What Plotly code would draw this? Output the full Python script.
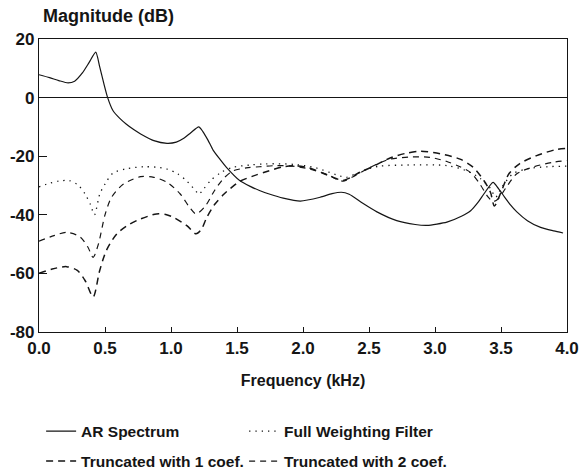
import plotly.graph_objects as go

# ---- data ----
ar_f = [0.00, 0.08, 0.15, 0.22, 0.27, 0.33, 0.38, 0.43, 0.46, 0.49, 0.52, 0.56, 0.61, 0.66,
        0.72, 0.77, 0.87, 0.97, 1.04, 1.10, 1.15, 1.21, 1.24, 1.28, 1.32, 1.37, 1.42, 1.52,
        1.60, 1.67, 1.75, 1.85, 1.98, 2.13, 2.22, 2.29, 2.35, 2.45, 2.56, 2.71, 2.85, 2.94,
        3.09, 3.20, 3.27, 3.33, 3.37, 3.44, 3.48, 3.52, 3.57, 3.62, 3.70, 3.80, 3.90, 3.97]
ar_db = [7.8, 6.8, 5.8, 5.0, 5.6, 8.5, 12.0, 15.5, 10.5, 5.0, 0.0, -4.4, -7.0, -9.0,
         -11.0, -12.4, -14.7, -15.6, -15.2, -13.8, -12.0, -10.0, -11.5, -14.5, -18.0, -21.0, -23.8, -28.3,
         -30.3, -31.7, -33.0, -34.3, -35.3, -34.0, -32.8, -32.3, -33.0, -36.0, -39.0, -42.0, -43.3, -43.6,
         -42.5, -40.5, -38.6, -35.5, -32.9, -28.9, -31.0, -33.5, -36.5, -39.0, -42.0, -44.3, -45.5, -46.2]

full_f = [0.00, 0.06, 0.15, 0.23, 0.30, 0.35, 0.39, 0.42, 0.46, 0.50, 0.56, 0.66, 0.79, 0.90,
          0.97, 1.05, 1.12, 1.19, 1.21, 1.25, 1.30, 1.38, 1.47, 1.60, 1.72, 1.93, 2.10, 2.25,
          2.33, 2.40, 2.50, 2.58, 2.80, 3.09, 3.24, 3.34, 3.42, 3.46, 3.50, 3.59, 3.70, 3.85, 4.00]
full_db = [-30.5, -29.5, -28.5, -28.3, -30.0, -33.0, -36.5, -40.0, -33.0, -29.5, -25.8, -24.3, -23.6, -23.8,
           -24.4, -26.0, -28.5, -32.0, -33.0, -31.0, -28.3, -25.5, -23.8, -23.0, -22.6, -22.8, -24.0, -26.3,
           -27.2, -26.0, -24.2, -23.4, -23.0, -23.2, -25.0, -27.5, -31.0, -34.0, -31.0, -26.0, -24.3, -23.6, -23.4]

t1_f = [0.00, 0.10, 0.21, 0.29, 0.35, 0.41, 0.46, 0.51, 0.59, 0.69, 0.77, 0.89, 0.96, 1.02,
        1.12, 1.19, 1.23, 1.27, 1.33, 1.40, 1.45, 1.52, 1.62, 1.72, 1.85, 1.95, 2.05, 2.15,
        2.25, 2.30, 2.36, 2.41, 2.53, 2.66, 2.78, 2.89, 3.04, 3.19, 3.29, 3.37, 3.42, 3.45,
        3.50, 3.56, 3.64, 3.77, 3.92, 4.00]
t1_db = [-60.0, -58.5, -57.7, -59.0, -62.5, -68.0, -59.0, -52.2, -46.5, -43.1, -41.4, -39.7, -39.9, -40.9,
         -43.7, -46.5, -45.0, -41.0, -36.5, -33.0, -31.0, -28.6, -26.8, -25.3, -23.6, -23.3, -24.0, -25.8,
         -27.6, -28.3, -27.3, -26.0, -23.5, -20.6, -19.0, -18.3, -19.2, -21.0, -23.8, -28.3, -32.3, -37.0,
         -32.3, -26.0, -22.6, -19.8, -17.7, -17.3]

t2_f = [0.00, 0.10, 0.21, 0.31, 0.37, 0.41, 0.45, 0.50, 0.55, 0.64, 0.77, 0.87, 0.97, 1.07,
        1.14, 1.19, 1.26, 1.33, 1.40, 1.47, 1.57, 1.67, 1.80, 1.92, 2.05, 2.18, 2.30, 2.38,
        2.48, 2.58, 2.66, 2.80, 2.96, 3.09, 3.19, 3.27, 3.34, 3.40, 3.44, 3.48, 3.54, 3.62,
        3.75, 3.90, 4.00]
t2_db = [-49.0, -47.3, -46.0, -47.5, -51.0, -54.5, -50.0, -40.0, -34.0, -29.5, -27.0, -27.2, -28.9, -32.9,
         -37.4, -39.7, -37.0, -31.7, -27.5, -25.0, -24.0, -23.6, -23.2, -23.4, -24.4, -26.2, -28.5, -27.0,
         -24.5, -22.3, -21.0, -20.3, -20.4, -21.8, -23.6, -25.6, -29.5, -33.8, -35.5, -34.5, -30.6, -26.0,
         -23.6, -22.0, -21.5]

x_ticks = [0.0, 0.5, 1.0, 1.5, 2.0, 2.5, 3.0, 3.5, 4.0]
x_labels = ["0.0", "0.5", "1.0", "1.5", "2.0", "2.5", "3.0", "3.5", "4.0"]
y_ticks = [20, 0, -20, -40, -60, -80]
y_labels = ["20", "0", "-20", "-40", "-60", "-80"]

INK = "#151515"
FONT = "Liberation Sans, Arial, Helvetica, sans-serif"
BOLD16 = dict(family=FONT, size=16, color=INK, weight="bold")
BOLD17 = dict(family=FONT, size=17, color=INK, weight="bold")
BOLD18 = dict(family=FONT, size=18, color=INK, weight="bold")
LEGFONT = dict(family=FONT, size=15.5, color=INK, weight="bold")

fig = go.Figure()
fig.add_trace(go.Scatter(x=ar_f, y=ar_db, mode="lines", name="AR Spectrum", legend="legend",
                         line=dict(color=INK, width=1.2, shape="spline", smoothing=0.6)))
fig.add_trace(go.Scatter(x=full_f, y=full_db, mode="lines", name="Full Weighting Filter", legend="legend",
                         line=dict(color=INK, width=1.3, dash="1.3px,5px", shape="spline", smoothing=0.8)))
fig.add_trace(go.Scatter(x=t1_f, y=t1_db, mode="lines", name="Truncated with 1 coef.", legend="legend2",
                         line=dict(color=INK, width=1.5, dash="7px,5px", shape="spline", smoothing=0.8)))
fig.add_trace(go.Scatter(x=t2_f, y=t2_db, mode="lines", name="Truncated with 2 coef.", legend="legend2",
                         line=dict(color=INK, width=1.2, dash="6px,5px", shape="spline", smoothing=0.8)))

leg_common = dict(orientation="h", xanchor="left", yanchor="top", x=0.004,
                  entrywidth=158, entrywidthmode="pixels", itemwidth=30,
                  font=LEGFONT, bgcolor="rgba(0,0,0,0)")

fig.update_layout(
    width=581, height=474,
    margin=dict(l=39, r=14, t=39, b=142, autoexpand=False),
    plot_bgcolor="white", paper_bgcolor="white",
    font=BOLD16,
    showlegend=True,
    legend=dict(y=-0.282, **leg_common),
    legend2=dict(y=-0.384, **leg_common),
    annotations=[dict(text="Magnitude (dB)", x=0.004, xref="paper", xanchor="left",
                      y=1.078, yref="paper", yanchor="middle", showarrow=False,
                      font=BOLD18)],
)

fig.update_xaxes(range=[0, 4], tickvals=x_ticks, ticktext=x_labels, automargin=False,
                 ticks="inside", ticklen=5, tickcolor=INK, showline=True, mirror=True,
                 linecolor=INK, linewidth=1.2, showgrid=False, zeroline=False,
                 ticklabeloverflow="allow", tickfont=BOLD17,
                 title=dict(text="Frequency (kHz)", standoff=18, font=BOLD16))
fig.update_yaxes(range=[-80, 20], tickvals=y_ticks, ticktext=y_labels, automargin=False,
                 ticks="inside", ticklen=8, tickcolor=INK,
                 showline=True, mirror=True, linecolor=INK, linewidth=1.2, showgrid=False,
                 zeroline=True, zerolinecolor=INK, zerolinewidth=1.2,
                 ticklabeloverflow="allow", tickfont=BOLD17)

fig.write_html("out.html", config={"displayModeBar": False},
               post_script="document.body.style.margin='0px';")
